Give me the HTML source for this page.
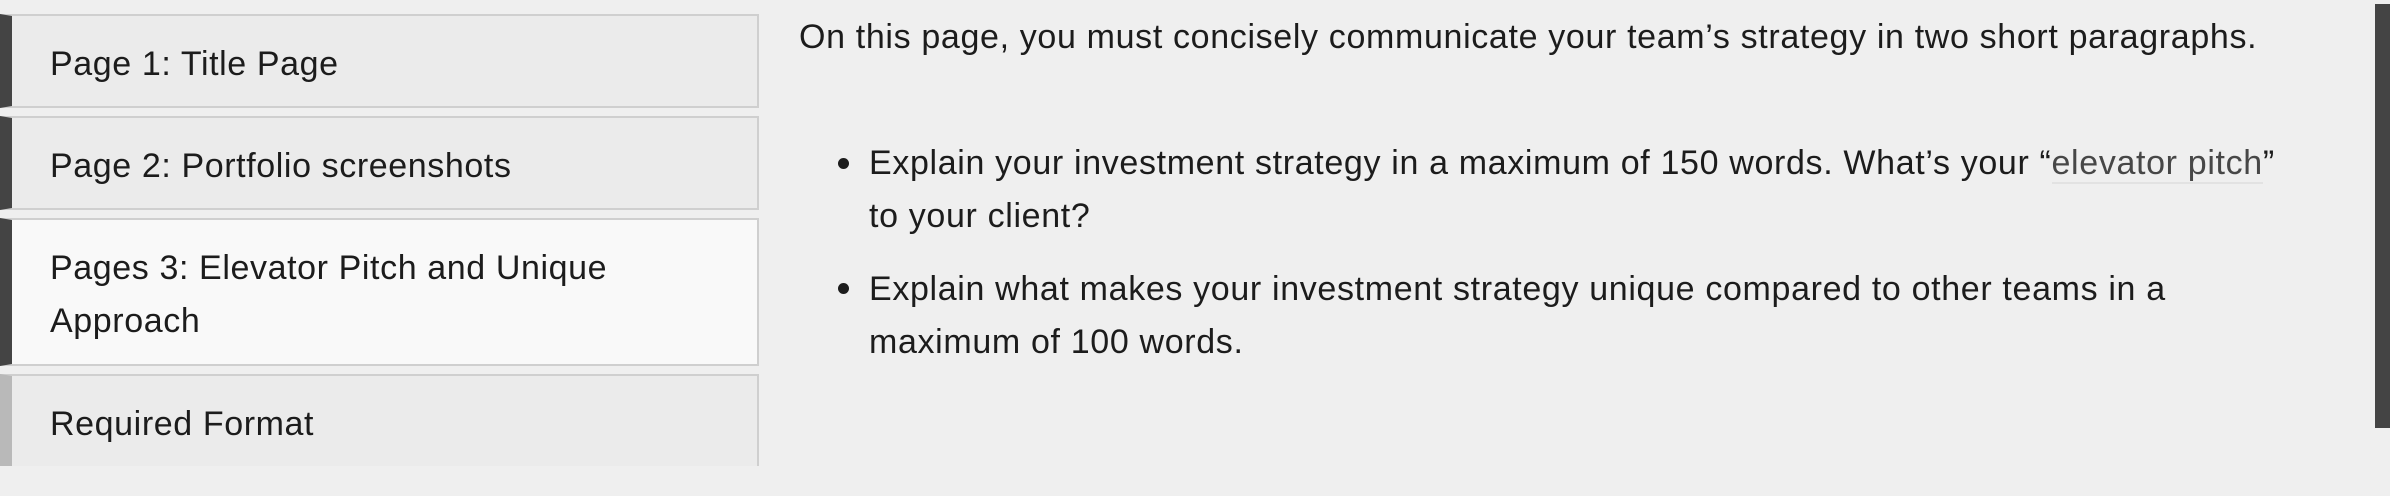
<!DOCTYPE html>
<html><head><meta charset="utf-8"><style>
html,body{margin:0;padding:0;width:2390px;height:496px;overflow:hidden;background:#efefef;font-family:"Liberation Sans",sans-serif;color:#1c1c1c}
.tab{position:absolute;left:0;width:759px;background:#ebebeb;border:2px solid #cfcfcf;border-left:12px solid #444;box-sizing:border-box;font-size:34px;letter-spacing:0.6px;padding-left:38px;line-height:53px}
.tab.active{background:#f9f9f9}
.p{position:absolute;left:799px;font-size:34px;letter-spacing:0.65px;white-space:nowrap}
.dot{position:absolute;left:838px;width:11px;height:11px;border-radius:50%;background:#1c1c1c}
.link{color:#474747;border-bottom:2px solid #e2e2e2}
</style></head><body>
<div class="tab" style="top:14px;height:94px;padding-top:22px">Page 1: Title Page</div>
<div class="tab" style="top:116px;height:94px;padding-top:22px">Page 2: Portfolio screenshots</div>
<div class="tab active" style="top:218px;height:148px;padding-top:22px">Pages 3: Elevator Pitch and Unique<br>Approach</div>
<div class="tab" style="top:374px;height:92px;padding-top:22px;border-bottom:none;border-left-color:#b9b9b9">Required Format</div>
<div class="p" style="top:18px">On this page, you must concisely communicate your team’s strategy in two short paragraphs.</div>
<div class="dot" style="top:158px"></div>
<div class="p" style="left:869px;top:137px;line-height:53px">Explain your investment strategy in a maximum of 150 words. What’s your “<span class="link">elevator pitch</span>”<br>to your client?</div>
<div class="dot" style="top:283px"></div>
<div class="p" style="left:869px;top:263px;line-height:53px">Explain what makes your investment strategy unique compared to other teams in a<br>maximum of 100 words.</div>
<div style="position:absolute;left:2375px;top:4px;width:15px;height:424px;background:#444"></div>
</body></html>
